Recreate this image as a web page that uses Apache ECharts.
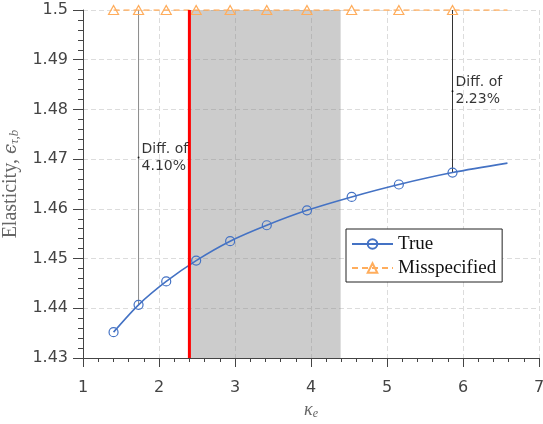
<!DOCTYPE html>
<html>
<head>
<meta charset="utf-8">
<script src="https://cdn.jsdelivr.net/npm/echarts@6/dist/echarts.min.js"></script>
<style>html,body{margin:0;padding:0;background:#fff;}#c{width:543px;height:424px;}</style>
</head>
<body>
<div id="c"></div>
<script>
// ---- data ----
const kappaVals = [1.402, 1.731, 2.095, 2.489, 2.936, 3.418, 3.947, 4.535, 5.156, 5.862, 6.585];
const trueVals  = [1.4352, 1.4407, 1.4454, 1.4496, 1.4535, 1.4567, 1.4597, 1.4624, 1.4649, 1.4673, 1.4692];
const misVals   = [1.5, 1.5, 1.5, 1.5, 1.5, 1.5, 1.5, 1.5, 1.5, 1.5, 1.5];
const markerCount = 10; // markers on first 10 points, last point is curve end
const redLineX = [2.40];
const shadeRange = [2.40, 4.39];
const annIndex = [1, 9];
const annTexts = ['Diff. of\n4.10%', 'Diff. of\n2.23%'];
const xTicks = [1, 2, 3, 4, 5, 6, 7];
const yTicks = [1.43, 1.44, 1.45, 1.46, 1.47, 1.48, 1.49, 1.5];

const BLUE = '#4472c4', ORANGE = '#ffad5c';

function mk(vals) {
  return kappaVals.map((x, i) => {
    const d = { value: [x, vals[i]] };
    if (i >= markerCount) d.symbol = 'none';
    return d;
  });
}

const series = [
  {
    name: 'True', type: 'line', smooth: 0.3, data: mk(trueVals),
    symbol: 'circle', symbolSize: 9, z: 5,
    lineStyle: { color: BLUE, width: 1.6 },
    itemStyle: { color: 'rgba(0,0,0,0)', borderColor: BLUE, borderWidth: 1.2 },
    markArea: {
      silent: true,
      itemStyle: { color: 'rgba(128,128,128,0.4)' },
      data: [[{ xAxis: shadeRange[0] }, { xAxis: shadeRange[1] }]]
    }
  },
  {
    name: 'Misspecified', type: 'line', data: mk(misVals),
    symbol: 'triangle', symbolSize: [10, 9], z: 5,
    lineStyle: { color: ORANGE, width: 1.5, type: [6, 4] },
    itemStyle: { color: 'rgba(0,0,0,0)', borderColor: ORANGE, borderWidth: 1.2 }
  },
  {
    name: 'red', type: 'line', symbol: 'none', z: 8,
    data: [[redLineX[0], yTicks[0]], [redLineX[0], yTicks[yTicks.length - 1]]],
    lineStyle: { color: '#ff0000', width: 3 }
  }
];

annIndex.forEach((idx, k) => {
  const x = kappaVals[idx], lo = trueVals[idx], hi = misVals[idx];
  series.push({
    name: 'ann' + k, type: 'line', symbol: 'none', z: 4,
    data: [[x, lo], [x, hi]],
    lineStyle: { color: k === 0 ? '#8a8a8a' : '#333', width: 1 }
  });
  series.push({
    name: 'annTxt' + k, type: 'scatter', symbol: 'circle', symbolSize: 2, z: 9,
    data: [[x, (lo + hi) / 2]],
    itemStyle: { color: '#000' },
    label: {
      show: true, position: 'right', distance: 2,
      formatter: annTexts[k], fontFamily: 'DejaVu Sans', fontSize: 14,
      lineHeight: 17, color: '#000', align: 'left'
    }
  });
});

const chart = echarts.init(document.getElementById('c'), null, { renderer: 'canvas' });
chart.setOption({
  animation: false,
  backgroundColor: '#fff',
  grid: { left: 83, right: 4, top: 10, bottom: 66, containLabel: false, outerBoundsMode: 'none' },
  legend: {
    data: ['True', 'Misspecified'], orient: 'vertical', left: 346, top: 229,
    backgroundColor: '#fff', borderColor: '#222', borderWidth: 1, borderRadius: 0,
    padding: [5, 6, 4, 5], itemWidth: 41, itemHeight: 12, itemGap: 4,
    textStyle: { fontFamily: 'Liberation Serif', fontSize: 19, color: '#111', lineHeight: 20 }
  },
  xAxis: {
    type: 'value', min: xTicks[0], max: xTicks[xTicks.length - 1], interval: 1,
    name: '{k|κ}{s|e}', nameLocation: 'middle', nameGap: 41,
    nameTextStyle: { rich: {
      k: { fontFamily: 'Liberation Serif', fontStyle: 'italic', fontSize: 18, color: '#666' },
      s: { fontFamily: 'Liberation Serif', fontStyle: 'italic', fontSize: 12, color: '#666', padding: [8, 0, 0, 0] }
    } },
    axisLine: { show: true, lineStyle: { color: '#444', width: 1 } },
    axisTick: { show: true, inside: false, length: 9, lineStyle: { color: '#444' } },
    minorTick: { show: true, splitNumber: 5, length: 4, lineStyle: { color: '#444' } },
    splitLine: { show: true, lineStyle: { color: '#dcdcdc', type: [5, 3] } },
    axisLabel: { fontFamily: 'DejaVu Sans', fontSize: 16, color: '#444', margin: 22 }
  },
  yAxis: {
    type: 'value', min: yTicks[0], max: yTicks[yTicks.length - 1], interval: 0.01,
    name: '{a|Elasticity, }{e|ϵ}{s|τ,b}', nameLocation: 'middle', nameGap: 59, nameRotate: 90,
    nameTextStyle: { rich: {
      a: { fontFamily: 'Liberation Serif', fontSize: 20, color: '#666' },
      e: { fontFamily: 'DejaVu Serif', fontStyle: 'italic', fontSize: 18, color: '#666' },
      s: { fontFamily: 'Liberation Serif', fontStyle: 'italic', fontSize: 13, color: '#666', padding: [8, 0, 0, 0] }
    } },
    axisLine: { show: true, lineStyle: { color: '#444', width: 1 } },
    axisTick: { show: true, inside: false, length: 10, lineStyle: { color: '#444' } },
    minorTick: { show: true, splitNumber: 5, length: 5, lineStyle: { color: '#444' } },
    splitLine: { show: true, lineStyle: { color: '#dcdcdc', type: [5, 3] } },
    axisLabel: {
      fontFamily: 'DejaVu Sans', fontSize: 16, color: '#444', margin: 15,
      formatter: v => String(parseFloat(Number(v).toFixed(2)))
    }
  },
  series: series
});
</script>
</body>
</html>
